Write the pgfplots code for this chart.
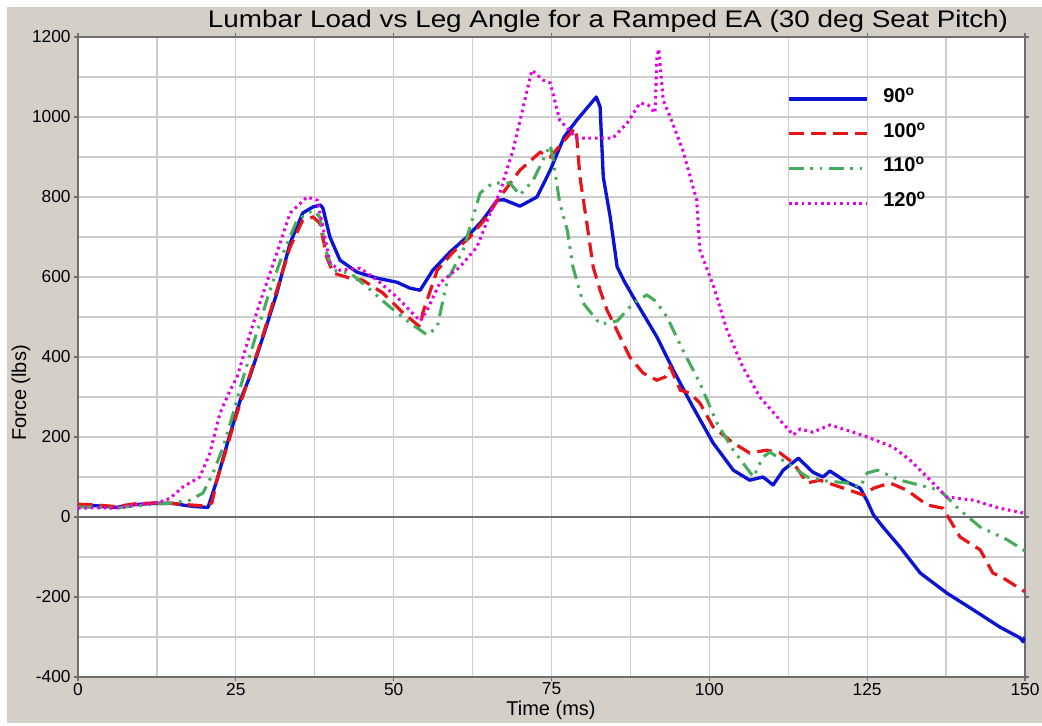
\documentclass[border=0pt]{standalone}
\usepackage{pgfplots}
\pgfplotsset{compat=1.18}
\usepackage{fontspec}
\setmainfont{Liberation Sans}

\definecolor{winbg}{RGB}{212,208,200}
\definecolor{axgray}{RGB}{110,110,110}
\definecolor{gridgray}{RGB}{205,205,205}
\definecolor{c90}{RGB}{10,20,210}
\definecolor{c100}{RGB}{232,20,24}
\definecolor{c110}{RGB}{70,172,90}
\definecolor{c120}{RGB}{230,0,230}

\begin{document}
\begin{tikzpicture}
  % window background (1px = 0.75pt)
  \useasboundingbox (-58.5pt,-36pt) rectangle (723pt,507.75pt);
  \fill[white] (-58.5pt,-36pt) rectangle (723pt,507.75pt);
  \fill[winbg] (-53.25pt,-34.5pt) rectangle (723pt,502.5pt);

  \begin{axis}[
      scale only axis,
      width=710.25pt, height=480pt,
      at={(0,0)}, anchor=south west,
      xmin=0, xmax=150, ymin=-400, ymax=1200,
      xtick={0,25,...,150},
      minor xtick={12.5,37.5,...,137.5},
      ytick={-400,-200,...,1200},
      minor ytick={-300,-100,...,1100},
      grid=both,
      grid style={gridgray, line width=0.9pt},
      minor grid style={gridgray, line width=0.9pt},
      axis background/.style={fill=white},
      axis line style={axgray, line width=1.4pt},
      tick align=outside,
      major tick length=3pt,
      minor tick length=0pt,
      tick style={axgray, line width=0.9pt},
      ticklabel style={font=\fontsize{13pt}{15pt}\selectfont},
      xticklabel style={yshift=2pt},
      yticklabel style={xshift=1pt},
      /pgf/number format/assume math mode=true,
      /pgf/number format/1000 sep={},
      legend cell align=left,
      legend style={draw=none, fill=none,
        at={(axis description cs:0.7487,0.921)}, anchor=north west,
        inner sep=0pt, row sep=15pt,
        font=\fontsize{15pt}{17pt}\selectfont\bfseries,
        nodes={inner sep=0pt, text height=11pt, text depth=0pt},
        /tikz/every odd column/.append style={column sep=11pt}},
      legend image code/.code={\draw[#1] (0pt,-3pt) -- (58.5pt,-3pt);},
    ]
    % zero line
    \addplot[axgray, line width=1.4pt, forget plot] coordinates {(0,0) (150,0)};

    % 90 deg
    \addplot[c90, line width=2.5pt, line join=round] coordinates {
      (0,28)(3,28)(6,24)(9,31)(12,34)(15,34)(17,29)(18.5,26)(20.6,24)(22,92)
      (23.8,192)(25.7,292)(27.2,350)(29.3,450)(31.5,560)(33.6,685)(35.6,760)
      (37.2,775)(38.4,780)(38.8,772)(39.9,700)(41.5,642)(44.2,612)(47.4,597)
      (50.5,587)(52.6,572)(54.2,567)(56.2,617)(58.9,662)(61.6,700)(64,740)
      (66.4,792)(67.5,793)(70,777)(72.7,800)(74.8,867)(77,950)(79,992)
      (82.1,1050)(82.7,1025)(83.2,850)(84.3,750)(85.4,625)(86.5,590)(88.5,535)
      (91.7,450)(94.3,367)(97.4,275)(100.6,185)(103.8,117)(106.4,92)(108.5,100)
      (110.1,80)(111.7,117)(114.1,147)(116.4,112)(118,100)(119.1,115)(121.8,87)
      (123.9,72)(125,40)(126,5)(127.5,-25)(130.2,-75)(133.4,-140)(137.6,-190)
      (141.8,-232)(146,-275)(149.2,-302)(149.7,-312)(150,-300)
    };
    % 100 deg
    \addplot[c100, line width=2.4pt, dash pattern=on 11pt off 5.5pt] coordinates {
      (0,32)(3,30)(6,26)(9,33)(12,35)(15,34)(18,30)(19.8,28)(21.2,35)(22,92)
      (23.6,175)(25.2,260)(26.8,335)(29,440)(31.5,567)(33.6,675)(35.6,742)
      (37.2,750)(38.3,735)(39.4,650)(40.4,610)(43.1,597)(45.1,592)(48.3,560)
      (51.5,510)(54.2,475)(54.6,510)(56.9,617)(59.4,662)(62.1,700)(64.5,745)
      (66.6,795)(70,867)(73.2,912)(74.8,900)(78.7,972)(79,950)(79.5,850)
      (80.6,735)(81.6,625)(82.7,567)(83.8,517)(84.8,485)(87.4,400)(89.5,360)
      (91.7,342)(93,350)(93.8,375)(95.4,317)(96.9,310)(98.5,285)(100.6,225)
      (103.8,185)(106.4,160)(109.1,167)(111.2,160)(113.3,135)(115.5,85)
      (117.5,92)(120.7,75)(124.4,55)(126,72)(128.6,85)(131.3,67)(134.5,30)
      (137,22)(138.1,-7)(139.7,-50)(142.9,-82)(144.9,-140)(146.5,-152)(150,-187)
    };
    % 110 deg
    \addplot[c110, line width=2.3pt,
      dash pattern=on 11pt off 5pt on 2pt off 5pt on 2pt off 5pt] coordinates {
      (0,25)(3,24)(6,22)(9,28)(12,32)(15,35)(17.7,42)(19.8,60)(21.4,110)(23,175)
      (24.6,260)(26.1,345)(28.3,460)(30.4,567)(32.5,660)(34.7,742)(37.2,767)
      (38.3,750)(39.4,660)(40.4,617)(43.1,610)(45.8,575)(49.4,525)(52.6,485)
      (55.3,455)(56.9,475)(58.5,592)(61,667)(62.1,725)(63.7,810)(65.7,835)
      (68.4,835)(70,805)(72.1,842)(74.8,930)(75.2,900)(76.3,785)(77.5,717)
      (78.4,625)(80,535)(82.7,482)(85.4,490)(88,535)(90.1,555)(91.5,540)
      (93.3,500)(95.8,417)(98.5,335)(101.2,235)(103.8,167)(107,100)(108.5,150)
      (109.6,162)(112.3,135)(115.5,100)(118.6,90)(121.8,85)(123.9,75)(125,110)
      (126.6,117)(130.2,92)(134.5,75)(136.5,67)(139.7,17)(142.9,-25)(147.2,-57)
      (150,-85)
    };
    % 120 deg
    \addplot[c120, line width=2.3pt, dash pattern=on 2pt off 2.8pt] coordinates {
      (0,22)(3,23)(6,22)(9,30)(12,35)(13.5,40)(14.6,47)(16.6,75)(19.3,100)
      (20.9,160)(22.5,260)(24.1,317)(25.2,350)(27,445)(28.8,535)(31.5,660)
      (33.6,760)(36.3,800)(37.9,792)(38.8,725)(39.9,635)(41.5,617)(44.7,622)
      (47.4,592)(50.5,550)(54.2,490)(55.3,517)(57.3,585)(60.5,625)(63.2,675)
      (65.3,760)(66.8,810)(68.9,917)(71.9,1117)(73.7,1092)(74.8,1085)(76.3,992)
      (79,947)(84.7,947)(87,985)(89,1035)(90.3,1030)(91.4,1010)(91.7,1150)
      (92,1170)(92.7,1042)(93.8,1000)(95.8,917)(98,792)(98.5,667)(100.6,580)
      (102.8,467)(105.3,375)(108,300)(111.2,242)(113.3,205)(114.4,220)
      (116.4,212)(119.1,230)(121.8,217)(125,200)(129.1,175)(131.8,142)
      (134.5,100)(137.6,50)(141.8,42)(146,22)(149.7,10)(150,10)
    };
    \legend{90\textsuperscript{o}, 100\textsuperscript{o}, 110\textsuperscript{o}, 120\textsuperscript{o}}
  \end{axis}

  % title and axis labels
  \node[anchor=base, xscale=1.16, font=\fontsize{18pt}{20pt}\selectfont]
    at (397.5pt,486.75pt) {Lumbar Load vs Leg Angle for a Ramped EA (30 deg Seat Pitch)};
  \node[anchor=base, font=\fontsize{15pt}{17pt}\selectfont]
    at (354.75pt,-28.5pt) {Time (ms)};
  \node[rotate=90, font=\fontsize{15pt}{17pt}\selectfont]
    at (-42.75pt,213pt) {Force (lbs)};
\end{tikzpicture}
\end{document}
